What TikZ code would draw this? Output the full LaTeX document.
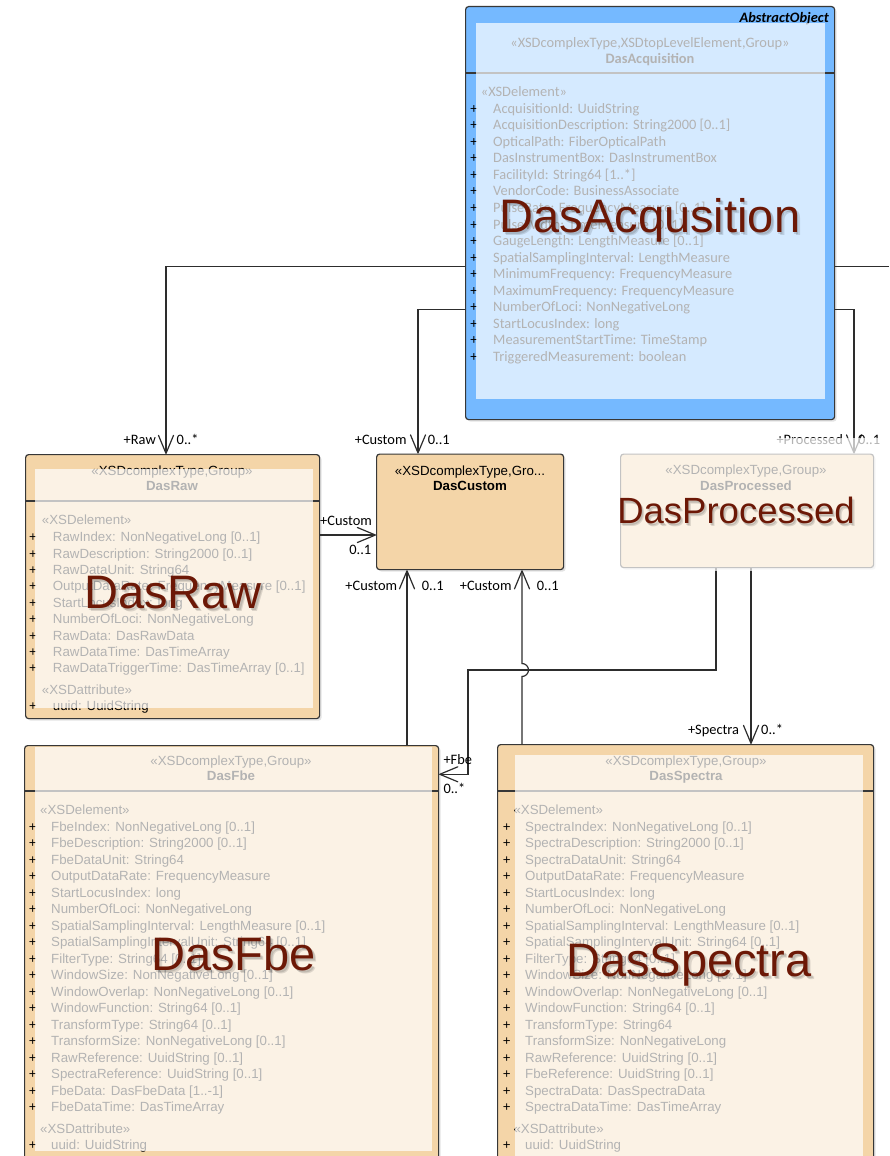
\documentclass[tikz,border=0pt]{standalone}
\usepackage{fontspec}
\setmainfont{Liberation Sans}
\newfontfamily\calib{Carlito}
\usetikzlibrary{arrows.meta,shadows}

\definecolor{acqblue}{RGB}{117,185,255}
\definecolor{umltan}{RGB}{244,213,168}
\definecolor{boxline}{RGB}{55,55,55}
\definecolor{wire}{RGB}{45,45,45}
\definecolor{bigred}{RGB}{108,24,6}

\tikzset{
  umlbox/.style={draw=boxline, line width=1.2pt, rounded corners=3pt, inner sep=0pt,
    anchor=north west, drop shadow={shadow xshift=2pt, shadow yshift=-2pt, opacity=0.22}},
  sepline/.style={draw=boxline, line width=1.2pt},
  veil/.style={fill=white, fill opacity=0.7, draw=none},
  atxt/.style={font=\fontsize{13.3}{16}\selectfont, inner sep=0pt, anchor=base west},
  ctxt/.style={font=\calib\fontsize{14.4}{17}\selectfont, inner sep=0pt, anchor=base west},
  ahead/.style={font=\fontsize{13.3}{16}\selectfont, inner sep=0pt, anchor=base},
  chead/.style={font=\calib\fontsize{14.4}{17}\selectfont, inner sep=0pt, anchor=base},
  plus/.style={inner sep=0pt, anchor=base},
  role/.style={font=\calib\fontsize{14.4}{17}\selectfont, inner sep=0pt},
  assoc/.style={draw=wire, line width=1.2pt, -{Straight Barb[length=18pt,width=15pt,round]}},
  plainwire/.style={draw=wire, line width=1.2pt},
  bigfont/.style={font=\fontsize{47}{50}\selectfont},
  biglabel/.style={bigfont, text=bigred, inner sep=0pt, anchor=base},
  bigshade/.style={bigfont, text=black, text opacity=0.12, inner sep=0pt, anchor=base},
}

\begin{document}
\begin{tikzpicture}[x=1pt, y=-1pt]
\useasboundingbox (0,0) rectangle (889,1156);
\clip (0,0) rectangle (889,1156);
\fill[white] (0,0) rectangle (889,1156);

% ---------- class boxes ----------
\node[umlbox, fill=acqblue, minimum width=369pt, minimum height=413pt] (acq) at (465,6) {};
\node[umlbox, fill=umltan, minimum width=294pt, minimum height=264pt] (raw) at (25,454) {};
\node[umlbox, fill=umltan, minimum width=187pt, minimum height=115.5pt] (custom) at (376,453.5) {};
\node[umlbox, fill=umltan, minimum width=253pt, minimum height=113.5pt] (proc) at (620,453.5) {};
\node[umlbox, fill=umltan, minimum width=414pt, minimum height=500pt] (fbe) at (24,745) {};
\node[umlbox, fill=umltan, minimum width=376pt, minimum height=500pt] (spec) at (497,744) {};

% header separators
\coordinate (sepacq) at (0,73);
\coordinate (sepraw) at (0,501);
\coordinate (sepbot) at (0,791);
\draw[sepline] (acq.west |- sepacq) -- (acq.east |- sepacq);
\draw[sepline] (raw.west |- sepraw) -- (raw.east |- sepraw);
\draw[sepline] (fbe.west |- sepbot) -- (fbe.east |- sepbot);
\draw[sepline] (spec.west |- sepbot) -- (spec.east |- sepbot);

% ---------- DasAcquisition ----------
\node[font=\calib\bfseries\itshape\fontsize{14.4}{17}\selectfont, inner sep=0pt, anchor=base east] (acqabs) at (829,22.3) {AbstractObject};
\node[chead] (acqst) at (650,47.3) {«XSDcomplexType,XSDtopLevelElement,Group»};
\node[chead, font=\calib\bfseries\fontsize{14.4}{17}\selectfont] (acqname) at (650,63.3) {DasAcquisition};
\node[ctxt] (acqel) at (480.7,96.7) {«XSDelement»};
\foreach \t [count=\i from 0] in {{AcquisitionId: UuidString},{AcquisitionDescription: String2000 [0..1]},{OpticalPath: FiberOpticalPath},{DasInstrumentBox: DasInstrumentBox},{FacilityId: String64 [1..*]},{VendorCode: BusinessAssociate},{PulseRate: FrequencyMeasure [0..1]},{PulseWidth: TimeMeasure [0..1]},{GaugeLength: LengthMeasure [0..1]},{SpatialSamplingInterval: LengthMeasure},{MinimumFrequency: FrequencyMeasure},{MaximumFrequency: FrequencyMeasure},{NumberOfLoci: NonNegativeLong},{StartLocusIndex: long},{MeasurementStartTime: TimeStamp},{TriggeredMeasurement: boolean}}{
  \node[plus, font=\calib\fontsize{14.4}{17}\selectfont] (acqp\i) at (474,{113.3+\i*16.53}) {+};
  \node[ctxt] (acqa\i) at (493,{113.3+\i*16.53}) {\t};
}

% ---------- DasRaw ----------
\node[ahead] (rawst) at (172,475) {«XSDcomplexType,Group»};
\node[ahead, font=\bfseries\fontsize{13.3}{16}\selectfont] (rawname) at (172,490.5) {DasRaw};
\node[atxt] (rawel) at (41.7,524.3) {«XSDelement»};
\foreach \t [count=\i from 0] in {{RawIndex: NonNegativeLong [0..1]},{RawDescription: String2000 [0..1]},{RawDataUnit: String64},{OutputDataRate: FrequencyMeasure [0..1]},{StartLocusIndex: long},{NumberOfLoci: NonNegativeLong},{RawData: DasRawData},{RawDataTime: DasTimeArray},{RawDataTriggerTime: DasTimeArray [0..1]}}{
  \node[plus, font=\fontsize{13.3}{16}\selectfont] (rawp\i) at (33,{541.7+\i*16.4}) {+};
  \node[atxt] (rawa\i) at (52.7,{541.7+\i*16.4}) {\t};
}
\node[atxt] (rawat) at (41.7,694) {«XSDattribute»};
\node[plus, font=\fontsize{13.3}{16}\selectfont] (rawpu) at (33,710.7) {+};
\node[atxt] (rawuuid) at (52.7,710.7) {uuid: UuidString};

% ---------- DasCustom ----------
\node[ahead] (custst) at (470,475) {«XSDcomplexType,Gro...};
\node[ahead, font=\bfseries\fontsize{13.3}{16}\selectfont] (custname) at (470,490) {DasCustom};

% ---------- DasProcessed ----------
\node[ahead] (procst) at (746,474) {«XSDcomplexType,Group»};
\node[ahead, font=\bfseries\fontsize{13.3}{16}\selectfont] (procname) at (746,490) {DasProcessed};

% ---------- DasFbe ----------
\node[ahead] (fbest) at (231,765) {«XSDcomplexType,Group»};
\node[ahead, font=\bfseries\fontsize{13.3}{16}\selectfont] (fbename) at (231,780.7) {DasFbe};
\node[atxt] (fbeel) at (40,814) {«XSDelement»};
\foreach \t [count=\i from 0] in {{FbeIndex: NonNegativeLong [0..1]},{FbeDescription: String2000 [0..1]},{FbeDataUnit: String64},{OutputDataRate: FrequencyMeasure},{StartLocusIndex: long},{NumberOfLoci: NonNegativeLong},{SpatialSamplingInterval: LengthMeasure [0..1]},{SpatialSamplingIntervalUnit: String64 [0..1]},{FilterType: String64 [0..1]},{WindowSize: NonNegativeLong [0..1]},{WindowOverlap: NonNegativeLong [0..1]},{WindowFunction: String64 [0..1]},{TransformType: String64 [0..1]},{TransformSize: NonNegativeLong [0..1]},{RawReference: UuidString [0..1]},{SpectraReference: UuidString [0..1]},{FbeData: DasFbeData [1..-1]},{FbeDataTime: DasTimeArray}}{
  \node[plus, font=\fontsize{13.3}{16}\selectfont] (fbep\i) at (32.7,{831+\i*16.51}) {+};
  \node[atxt] (fbea\i) at (51,{831+\i*16.51}) {\t};
}
\node[atxt] (fbeat) at (40,1133.3) {«XSDattribute»};
\node[plus, font=\fontsize{13.3}{16}\selectfont] (fbepu) at (32.7,1149.3) {+};
\node[atxt] (fbeuuid) at (51,1149.3) {uuid: UuidString};

% ---------- DasSpectra ----------
\node[ahead] (specst) at (686,765) {«XSDcomplexType,Group»};
\node[ahead, font=\bfseries\fontsize{13.3}{16}\selectfont] (specname) at (686,780.7) {DasSpectra};
\node[atxt] (specel) at (513.3,814) {«XSDelement»};
\foreach \t [count=\i from 0] in {{SpectraIndex: NonNegativeLong [0..1]},{SpectraDescription: String2000 [0..1]},{SpectraDataUnit: String64},{OutputDataRate: FrequencyMeasure},{StartLocusIndex: long},{NumberOfLoci: NonNegativeLong},{SpatialSamplingInterval: LengthMeasure [0..1]},{SpatialSamplingIntervalUnit: String64 [0..1]},{FilterType: String64 [0..1]},{WindowSize: NonNegativeLong [0..1]},{WindowOverlap: NonNegativeLong [0..1]},{WindowFunction: String64 [0..1]},{TransformType: String64},{TransformSize: NonNegativeLong},{RawReference: UuidString [0..1]},{FbeReference: UuidString [0..1]},{SpectraData: DasSpectraData},{SpectraDataTime: DasTimeArray}}{
  \node[plus, font=\fontsize{13.3}{16}\selectfont] (specp\i) at (506.7,{831+\i*16.51}) {+};
  \node[atxt] (speca\i) at (525,{831+\i*16.51}) {\t};
}
\node[atxt] (specat) at (513.3,1133.3) {«XSDattribute»};
\node[plus, font=\fontsize{13.3}{16}\selectfont] (specpu) at (506.7,1149.3) {+};
\node[atxt] (specuuid) at (525,1149.3) {uuid: UuidString};

% ---------- associations ----------
\coordinate (rawbend) at (166,266.5);
\coordinate (custbend) at (418,309.5);
\coordinate (offright) at (889,266.5);
\coordinate (procbend) at (854,309.5);
\coordinate (rawcust) at (0,535);
\coordinate (fbecol) at (407,0);
\coordinate (speccol) at (522,0);
\coordinate (hopbot) at (522,676.5);
\coordinate (procleft) at (716,670);
\coordinate (fbejog) at (468,670);
\coordinate (fbein) at (468,774.3);
\coordinate (spectrcol) at (751,0);

\draw[assoc] (acq.west |- rawbend) -- (rawbend) -- (raw.north -| rawbend);
\draw[assoc] (acq.west |- custbend) -- (custbend) -- (custom.north -| custbend);
\draw[plainwire] (acq.east |- offright) -- (offright);
\draw[assoc] (acq.east |- procbend) -- (procbend) -- (proc.north -| procbend);
\draw[assoc] (raw.east |- rawcust) -- (custom.west |- rawcust);
\draw[assoc] (fbe.north -| fbecol) -- (custom.south -| fbecol);
\draw[assoc] (proc.south -| procleft) -- (procleft) -- (fbejog) -- (fbein) -- (fbe.east |- fbein);
\draw[assoc] (spec.north -| speccol) -- (hopbot) arc[start angle=-90, end angle=90, radius=6.5pt] -- (custom.south -| speccol);
\draw[assoc] (proc.south -| spectrcol) -- (spec.north -| spectrcol);

% role names and multiplicities
\node[role, anchor=base east] (rawrole) at (156,444) {+Raw};
\node[role, anchor=base west] (rawmult) at (176.5,444) {0..*};
\node[role, anchor=base east] (custrole) at (406.7,444) {+Custom};
\node[role, anchor=base west] (custmult) at (427.7,444) {0..1};
\node[role, anchor=base east] (procrole) at (843,444) {+Processed};
\node[role, anchor=base west] (procmult) at (858,444) {0..1};
\node[role, anchor=base west] (rcrole) at (320,525) {+Custom};
\node[role, anchor=base east] (rcmult) at (371.5,554) {0..1};
\node[role, anchor=base east] (fcrole) at (397.3,590) {+Custom};
\node[role, anchor=base west] (fcmult) at (421.7,590) {0..1};
\node[role, anchor=base east] (scrole) at (511.7,590) {+Custom};
\node[role, anchor=base west] (scmult) at (536.7,590) {0..1};
\node[role, anchor=base west] (fberole) at (443.3,764) {+Fbe};
\node[role, anchor=base west] (fbemult) at (443.3,793) {0..*};
\node[role, anchor=base east] (sprole) at (739.3,734) {+Spectra};
\node[role, anchor=base west] (spmult) at (761,734) {0..*};

% ---------- translucent highlight panels ----------
\fill[veil] (476,23.3) rectangle (825,399);
\fill[veil] (35,469) rectangle (313,708);
\fill[veil] (612,438) rectangle (882,571);
\fill[veil] (35,747) rectangle (432,1151);
\fill[veil] (515,755) rectangle (863,1156);

% ---------- large captions with soft shadow ----------
\foreach \nm/\tx/\x/\y in {acq/DasAcqusition/650/232, raw/DasRaw/173/608, fbe/DasFbe/233.5/970, spec/DasSpectra/689/976}{
  \node[bigshade] (\nm bigsa) at (\x+1.5,\y+2) {\tx};
  \node[bigshade] (\nm bigsb) at (\x+3,\y+3.5) {\tx};
  \node[biglabel] (\nm big) at (\x,\y) {\tx};
}
\node[bigshade, font=\fontsize{36.5}{40}\selectfont] (procbigsa) at (737.2,525) {DasProcessed};
\node[bigshade, font=\fontsize{36.5}{40}\selectfont] (procbigsb) at (738.4,526.2) {DasProcessed};
\node[biglabel, font=\fontsize{36.5}{40}\selectfont] (procbig) at (736,523) {DasProcessed};
\end{tikzpicture}
\end{document}
